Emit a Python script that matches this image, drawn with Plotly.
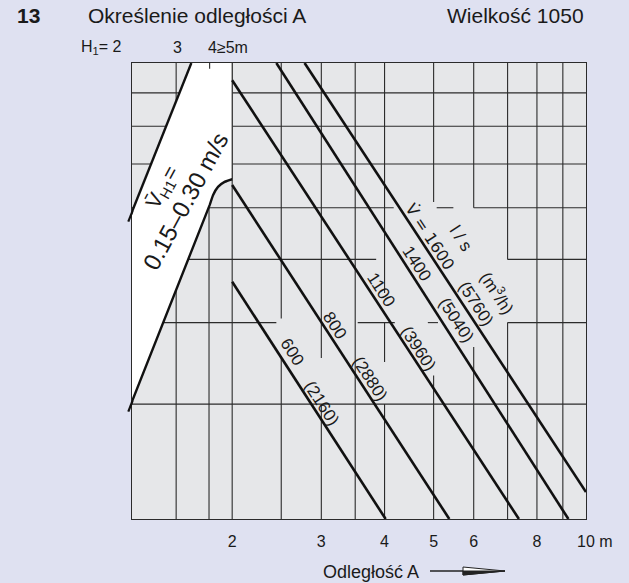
import math
import plotly.graph_objects as go

# ---------------- data ----------------
flow_ls = [600, 800, 1100, 1400, 1600]
flow_m3h = [2160, 2880, 3960, 5040, 5760]
line_x_start = [2.0, 2.0, 2.0, 2.445, 2.78]
line_y_start = [4.62, 6.50, 9.41, 10.0, 10.0]
line_x_end = [4.02, 5.37, 7.37, 9.23, 10.0]
line_y_end = [2.0, 2.0, 2.0, 2.0, 2.20]

# boundary lines of the free-jet zone (H1 = 2 m and H1 >= 4 m)
h1_2_x = [1.661, 1.245]
h1_2_y = [10.0, 5.71]
h1_4_x = [2.0, 1.932, 1.875, 1.833, 1.805, 1.245]
h1_4_y = [6.635, 6.573, 6.458, 6.271, 6.055, 2.92]

xtick_vals = [2, 3, 4, 5, 6, 8, 10]
xtick_text = ["2", "3", "4", "5", "6", "8", "\u00a0\u00a0\u00a0\u00a010 m"]

X_MIN, X_MAX = 1.268, 10.0
Y_MIN, Y_MAX = 2.0, 10.0

# grid segments (x, y0, y1) and (y, x0, x1)
grid_v = [(1.55, 2, 10), (1.8, 2, 10), (2.0, 2, 10),
          (2.5, 4.06, 10), (2.5, 2, 3.55),
          (3.0, 3.53, 10), (3.0, 2, 3.0), (3.5, 2, 10),
          (4.0, 4.44, 10), (4.0, 3.48, 4.0), (4.0, 2, 3.0),
          (5.0, 6.12, 10), (5.0, 2, 3.32),
          (6.0, 6.0, 10), (6.0, 2, 3.67),
          (7.0, 5.0, 10), (7.0, 2, 4.0),
          (8.0, 2, 10), (9.0, 2, 10)]
grid_h = [(9, X_MIN, X_MAX), (8, X_MIN, X_MAX), (7, X_MIN, X_MAX),
          (6, X_MIN, 4.17), (6, 5.07, 5.47), (6, 6.0, X_MAX),
          (5, X_MIN, 3.85), (5, 7.0, X_MAX),
          (4, X_MIN, 2.445), (4, 3.54, 4.19), (4, 4.87, 5.1), (4, 7.0, X_MAX),
          (3, X_MIN, X_MAX)]

fig = go.Figure()

gx, gy = [], []
for x, y0, y1 in grid_v:
    gx += [x, x, None]
    gy += [y0, y1, None]
for y, x0, x1 in grid_h:
    gx += [x0, x1, None]
    gy += [y, y, None]
fig.add_trace(go.Scatter(x=gx, y=gy, mode="lines",
                         line=dict(color="#2b2b2b", width=1.1),
                         hoverinfo="skip", showlegend=False))

# white zone
wx = [h1_2_x[0], 2.0] + h1_4_x + [h1_2_x[1], h1_2_x[0]]
wy = [Y_MAX, Y_MAX] + h1_4_y + [h1_2_y[1], Y_MAX]
fig.add_trace(go.Scatter(x=wx, y=wy, mode="lines", fill="toself",
                         fillcolor="white", line=dict(width=0),
                         hoverinfo="skip", showlegend=False))
# right edge of white zone + top tick for H1 = 3
fig.add_trace(go.Scatter(x=[2.0, 2.0, None, 1.805, 1.805],
                         y=[h1_4_y[0], Y_MAX, None, 9.80, Y_MAX], mode="lines",
                         line=dict(color="#2b2b2b", width=1.1),
                         hoverinfo="skip", showlegend=False))
# boundary lines
fig.add_trace(go.Scatter(x=h1_2_x, y=h1_2_y, mode="lines",
                         line=dict(color="#111", width=2.4),
                         hoverinfo="skip", showlegend=False))
fig.add_trace(go.Scatter(x=h1_4_x, y=h1_4_y, mode="lines",
                         line=dict(color="#111", width=2.4, shape="spline", smoothing=0.6),
                         hoverinfo="skip", showlegend=False))

# flow lines
for i, q in enumerate(flow_ls):
    fig.add_trace(go.Scatter(x=[line_x_start[i], line_x_end[i]],
                             y=[line_y_start[i], line_y_end[i]], mode="lines",
                             line=dict(color="#111", width=2.6),
                             name=f"{q} l/s", hoverinfo="skip", showlegend=False))

L, R, T, B = 132, 586, 63, 519
W, H = R - L, B - T


def pp(px, py):
    return (px - L) / W, (B - py) / H


FONT = "Liberation Sans, Arial, sans-serif"
ann = []


def add_text(text, px, py, size, angle=0, xanchor="center", bold=False, family=FONT):
    x, y = pp(px, py)
    t = f"<b>{text}</b>" if bold else text
    ann.append(dict(text=t, x=x, y=y, xref="paper", yref="paper",
                    xanchor=xanchor, yanchor="middle", showarrow=False,
                    textangle=angle, font=dict(family=family, size=size, color="#1a1a1a")))


add_text("13", 28, 16, 21, bold=True)
add_text("Określenie odległości A", 86, 16, 21, xanchor="left")
add_text("Wielkość 1050", 586, 16, 21, xanchor="right")
add_text("H<sub>1</sub>= 2", 79, 48, 16, xanchor="left")
add_text("3", 177, 48, 16)
add_text("4≥5m", 228, 48, 16)
add_text("Odległość A", 371, 572, 18)

ang = 57
label_pos = [((291.7, 351.7), (321.7, 403.3)),
             ((335, 325), (370, 378)),
             ((381.7, 290), (418.3, 348.3)),
             ((416.7, 263.3), (456.7, 320)),
             ((430, 236), (476, 303))]
for i, q in enumerate(flow_ls):
    (ax1, ay1), (ax2, ay2) = label_pos[i]
    if i == len(flow_ls) - 1:
        add_text(f"V\u0307 = {q}", ax1, ay1, 16, angle=ang, family="DejaVu Sans")
    else:
        add_text(str(q), ax1, ay1, 17, angle=ang)
    add_text(f"({flow_m3h[i]})", ax2, ay2, 17, angle=ang)
add_text("l / s", 461, 238, 17, angle=ang)
add_text("(m<sup>3</sup>/h)", 497.5, 292, 17, angle=ang)

add_text("V\u0304<sub>H1</sub>=", 162.5, 187.5, 21, angle=-61.5)
add_text("0.15–0.30 m/s", 185, 201, 24, angle=-61.5)

shapes = []
# small overhangs of the zone boundaries beyond the left frame
for (ax0, ay0, ax1, ay1) in [(132.5, 211.2, 128.3, 221.7), (132.5, 401.0, 128.3, 411.7)]:
    p0x, p0y = pp(ax0, ay0)
    p1x, p1y = pp(ax1, ay1)
    shapes.append(dict(type="line", xref="paper", yref="paper", x0=p0x, y0=p0y,
                       x1=p1x, y1=p1y, line=dict(color="#111", width=2.2)))

# arrow next to axis title
x0, y0 = pp(430, 571)
x1, y1 = pp(465, 571)
shapes.append(dict(type="line", xref="paper", yref="paper", x0=x0, y0=y0, x1=x1, y1=y1,
                   line=dict(color="#222", width=1.5)))
ax_, ay_ = pp(463, 567)
bx_, by_ = pp(505, 571)
cx_, cy_ = pp(463, 575)
mx_, my_ = pp(463, 571)
shapes.append(dict(type="path", xref="paper", yref="paper",
                   path=f"M{ax_},{ay_} L{bx_},{by_} L{cx_},{cy_} Z",
                   fillcolor="white", line=dict(color="#222", width=1)))
shapes.append(dict(type="path", xref="paper", yref="paper",
                   path=f"M{mx_},{my_} L{bx_},{by_} L{cx_},{cy_} Z",
                   fillcolor="#222", line=dict(color="#222", width=1)))

fig.update_layout(
    width=629, height=583,
    margin=dict(l=L, r=629 - R, t=T, b=583 - B, pad=0),
    paper_bgcolor="#DFE1F1", plot_bgcolor="#E6E7E9",
    annotations=ann, shapes=shapes, showlegend=False,
    xaxis=dict(type="log", range=[math.log10(X_MIN), math.log10(X_MAX)],
               showgrid=False, zeroline=False, showline=True, mirror=True,
               linecolor="#2b2b2b", linewidth=1, ticks="", automargin=False,
               tickvals=xtick_vals, ticktext=xtick_text, ticklabelstandoff=8,
               tickfont=dict(family=FONT, size=16, color="#1a1a1a")),
    yaxis=dict(type="log", range=[math.log10(Y_MIN), math.log10(Y_MAX)],
               showgrid=False, zeroline=False, showline=True, mirror=True, automargin=False,
               linecolor="#2b2b2b", linewidth=1, ticks="", showticklabels=False),
)

fig.write_html(
    "out.html",
    config={"displayModeBar": False},
    post_script="document.body.style.margin='0';document.body.style.padding='0';"
                "document.body.style.overflow='hidden';document.body.style.background='#DFE1F1';",
)
